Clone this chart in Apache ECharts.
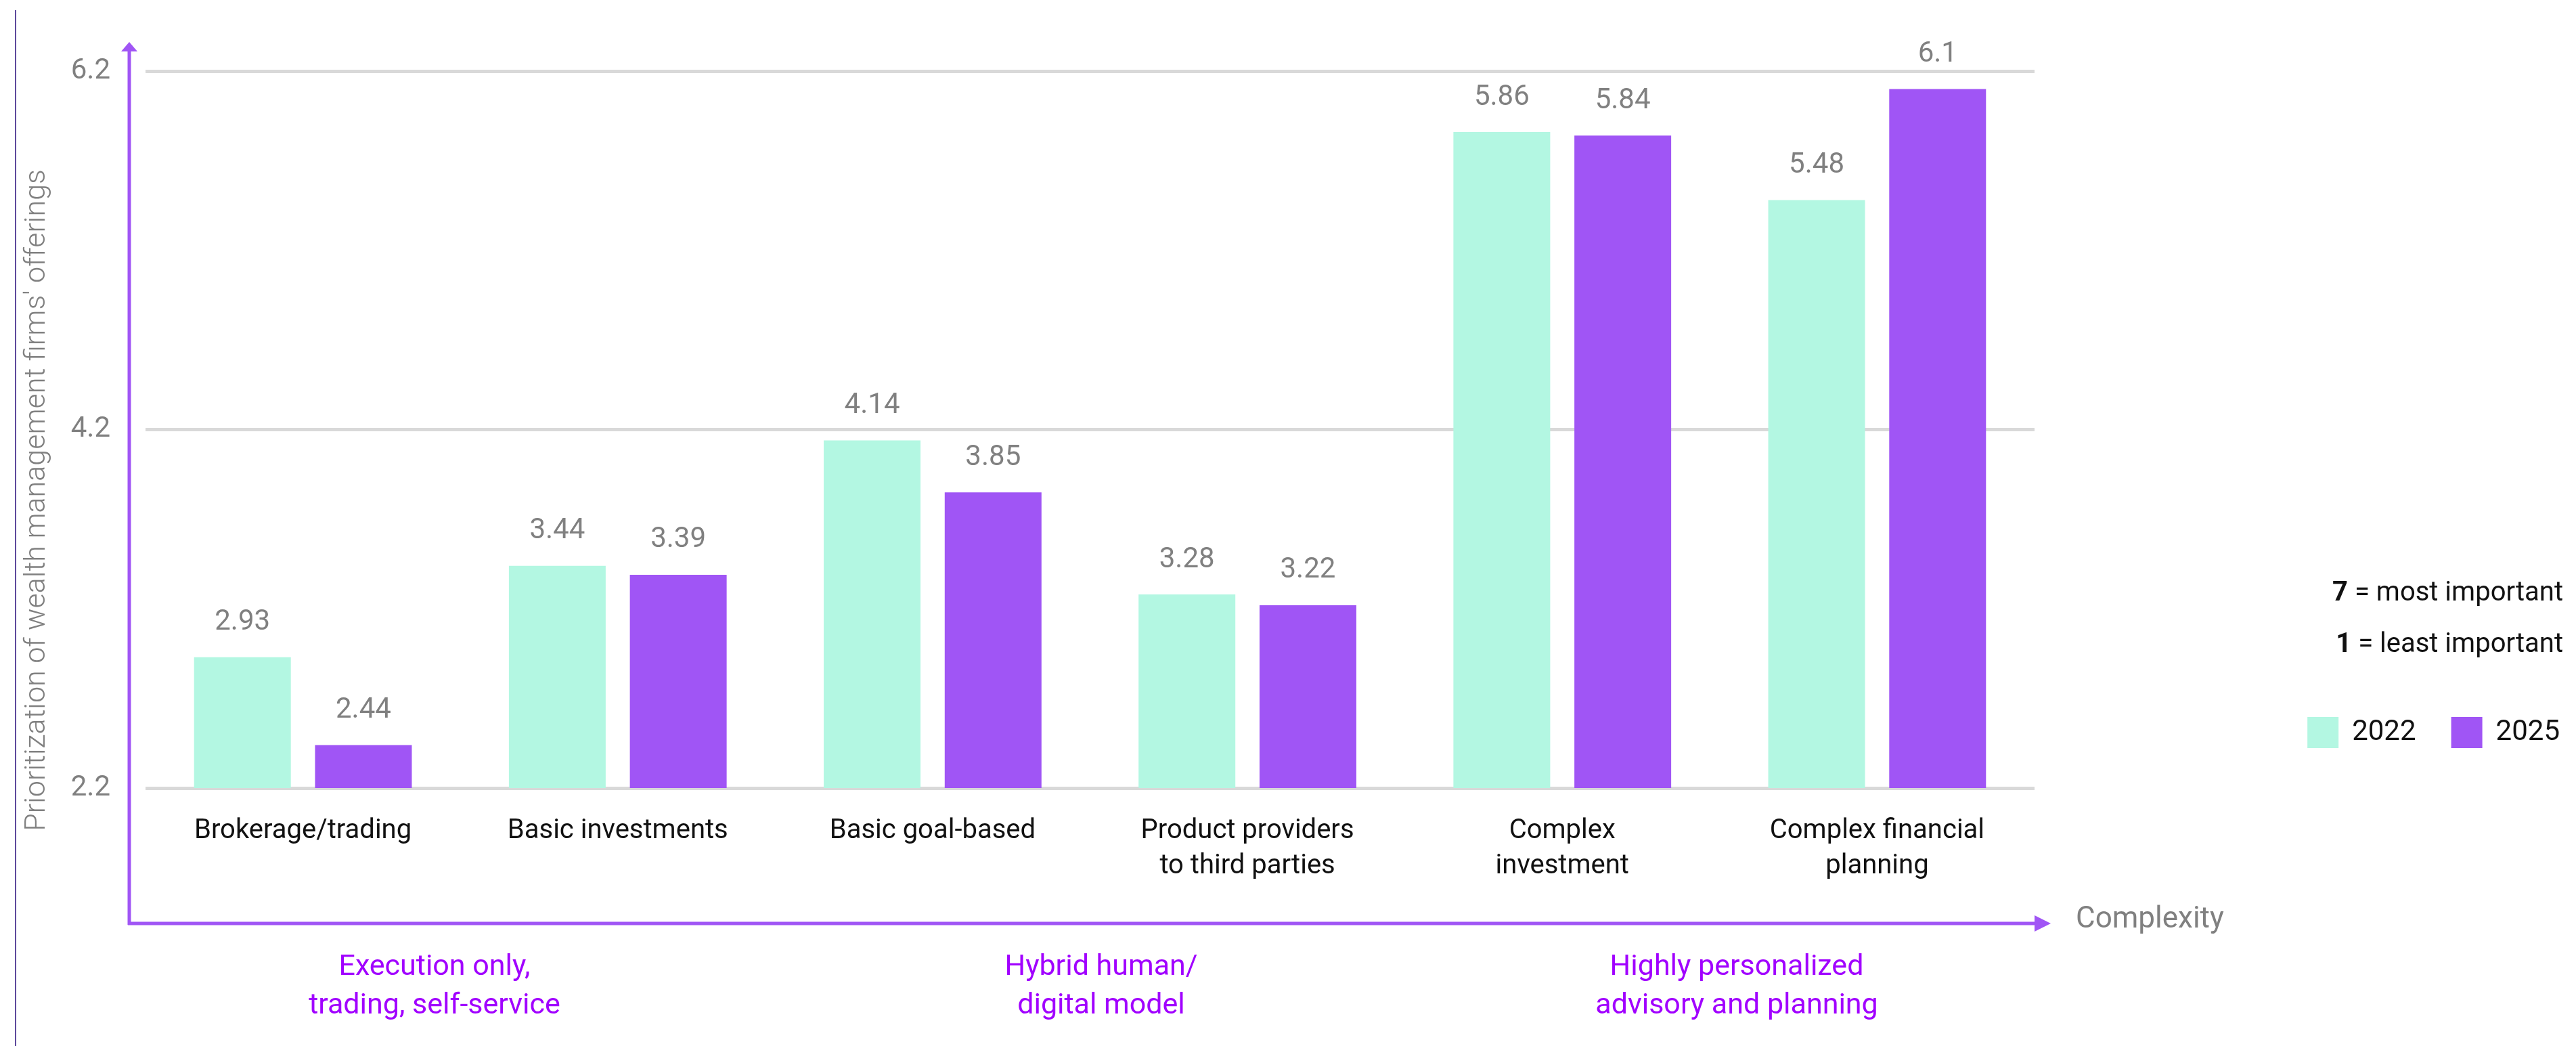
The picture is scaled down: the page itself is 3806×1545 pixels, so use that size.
<!DOCTYPE html>
<html>
<head>
<meta charset="utf-8">
<script src="https://cdn.jsdelivr.net/npm/echarts@6/dist/echarts.min.js"></script>
<style>
html,body{margin:0;padding:0;background:#fff;}
#chart{width:3806px;height:1545px;}
</style>
</head>
<body>
<div id="chart"></div>
<script>
const categories = ['Brokerage/trading', 'Basic investments', 'Basic goal-based', 'Product providers\nto third parties', 'Complex\ninvestment', 'Complex financial\nplanning'];
const values2022 = [2.93, 3.44, 4.14, 3.28, 5.86, 5.48];
const values2025 = [2.44, 3.39, 3.85, 3.22, 5.84, 6.1];
const seriesNames = ['2022', '2025'];
const yMin = 2.2, yMax = 6.2, yStep = 2;
const yAxisTitle = "Prioritization of wealth management firms' offerings";
const xAxisTitle = 'Complexity';
const groupLabels = ['Execution only,\ntrading, self-service', 'Hybrid human/\ndigital model', 'Highly personalized\nadvisory and planning'];
const scaleNotes = [['7', ' = most important'], ['1', ' = least important']];

const FONT = 'Roboto';
const PURPLE = '#A055F5';
const MINT = '#B3F7E2';
const GRAY = '#808080';

const chart = echarts.init(document.getElementById('chart'), null, {renderer: 'canvas'});

const groupX = [642, 1627, 2566];
const graphics = [
  {type: 'line', shape: {x1: 23, y1: 15, x2: 23, y2: 1545}, style: {stroke: '#5E4A9C', lineWidth: 2}},
  {type: 'line', shape: {x1: 191, y1: 1366, x2: 191, y2: 72}, style: {stroke: PURPLE, lineWidth: 5}},
  {type: 'polygon', shape: {points: [[179, 76], [203, 76], [191, 62]]}, style: {fill: PURPLE}},
  {type: 'line', shape: {x1: 189, y1: 1364, x2: 3012, y2: 1364}, style: {stroke: PURPLE, lineWidth: 5}},
  {type: 'polygon', shape: {points: [[3006, 1352], [3006, 1376], [3030, 1364]]}, style: {fill: PURPLE}},
  {type: 'text', x: 3067, y: 1359, style: {text: xAxisTitle, fill: GRAY, font: '44px ' + FONT, textVerticalAlign: 'middle', textAlign: 'left'}},
  {type: 'text', x: 55, y: 739, rotation: Math.PI / 2, style: {text: yAxisTitle, fill: GRAY, font: '300 43px ' + FONT, textAlign: 'center', textVerticalAlign: 'middle'}}
];
groupLabels.forEach((t, i) => {
  graphics.push({type: 'text', x: groupX[i], y: 1458, style: {text: t, fill: '#A100FF', font: '43px ' + FONT, lineHeight: 57, textAlign: 'center', textVerticalAlign: 'middle'}});
});
scaleNotes.forEach((n, i) => {
  graphics.push({type: 'text', x: 3787, y: 877 + i * 76, style: {
    text: '{b|' + n[0] + '}{r|' + n[1] + '}',
    rich: {b: {fontSize: 40, fontWeight: 'bold', fontFamily: FONT, fill: '#111'}, r: {fontSize: 40, fontFamily: FONT, fill: '#111'}},
    textAlign: 'right', textVerticalAlign: 'middle'
  }});
});

const labelCfg = {show: true, position: 'top', distance: 30, fontSize: 42, color: GRAY, fontFamily: FONT};

chart.setOption({
  animation: false,
  backgroundColor: '#fff',
  textStyle: {fontFamily: FONT},
  grid: {left: 215, right: 800, top: 105, bottom: 381, containLabel: false},
  legend: {
    right: 19, top: 1054, itemWidth: 46, itemHeight: 46, itemGap: 52, icon: 'rect',
    textStyle: {fontSize: 42, color: '#111', fontFamily: FONT, padding: [0, 0, 0, 15]},
    data: seriesNames
  },
  xAxis: {
    type: 'category', data: categories,
    axisLine: {show: false}, axisTick: {show: false},
    axisLabel: {interval: 0, fontSize: 40, color: '#111', lineHeight: 52, margin: 38, fontFamily: FONT, verticalAlign: 'top'}
  },
  yAxis: {
    type: 'value', min: yMin, max: yMax, interval: yStep,
    axisLine: {show: false}, axisTick: {show: false},
    axisLabel: {fontSize: 42, color: GRAY, margin: 52, fontFamily: FONT},
    splitLine: {lineStyle: {color: '#D9D9D9', width: 5}}
  },
  series: [
    {name: seriesNames[0], type: 'bar', data: values2022, barWidth: 143, barGap: '25%', itemStyle: {color: MINT}, label: labelCfg},
    {name: seriesNames[1], type: 'bar', data: values2025, barWidth: 143, barGap: '25%', itemStyle: {color: PURPLE}, label: labelCfg}
  ],
  graphic: graphics
});
</script>
</body>
</html>
